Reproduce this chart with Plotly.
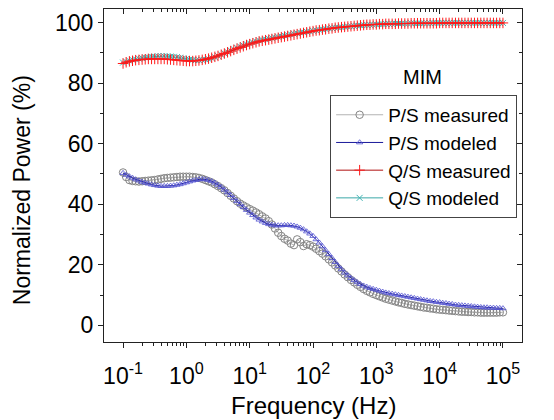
import plotly.graph_objects as go

# frequency (Hz), 20 points per decade from 0.1 Hz to 100 kHz
freq = [0.1, 0.112, 0.126, 0.141, 0.158, 0.178, 0.2, 0.224, 0.251, 0.282, 0.316, 0.355, 0.398, 0.447, 0.501, 0.562, 0.631, 0.708, 0.794, 0.891,
        1, 1.12, 1.26, 1.41, 1.58, 1.78, 2, 2.24, 2.51, 2.82, 3.16, 3.55, 3.98, 4.47, 5.01, 5.62, 6.31, 7.08, 7.94, 8.91,
        10, 11.2, 12.6, 14.1, 15.8, 17.8, 20, 22.4, 25.1, 28.2, 31.6, 35.5, 39.8, 44.7, 50.1, 56.2, 63.1, 70.8, 79.4, 89.1,
        100, 112, 126, 141, 158, 178, 200, 224, 251, 282, 316, 355, 398, 447, 501, 562, 631, 708, 794, 891,
        1000, 1120, 1260, 1410, 1580, 1780, 2000, 2240, 2510, 2820, 3160, 3550, 3980, 4470, 5010, 5620, 6310, 7080, 7940, 8910,
        10000, 11200, 12600, 14100, 15800, 17800, 20000, 22400, 25100, 28200, 31600, 35500, 39800, 44700, 50100, 56200, 63100, 70800, 79400, 89100,
        100000]

ps_measured = [50.5, 49.0, 48.0, 47.7, 47.6, 47.5, 47.6, 47.7, 47.8, 47.9, 48.0, 48.2, 48.4, 48.6, 48.7, 48.8, 48.9, 49.0, 49.1, 49.1,
               49.1, 49.1, 49.0, 48.9, 48.7, 48.4, 48.0, 47.6, 47.2, 46.6, 46.0, 45.3, 44.6, 43.7, 42.8, 41.9, 41.0, 40.2, 39.6, 39.0,
               38.4, 37.9, 37.3, 36.7, 36.0, 35.3, 34.4, 33.3, 32.0, 30.6, 29.5, 28.6, 28.0, 27.0, 26.5, 28.4, 27.5, 26.2, 26.8, 26.5,
               26.0, 25.3, 24.5, 23.7, 22.8, 21.8, 20.8, 19.8, 18.8, 17.8, 16.8, 15.9, 15.0, 14.2, 13.4, 12.7, 12.0, 11.4, 10.9, 10.4,
               10.0, 9.6, 9.2, 8.8, 8.5, 8.2, 7.9, 7.6, 7.4, 7.1, 6.9, 6.7, 6.5, 6.3, 6.1, 5.9, 5.8, 5.6, 5.5, 5.3,
               5.2, 5.1, 5.0, 4.9, 4.8, 4.7, 4.6, 4.5, 4.5, 4.4, 4.4, 4.3, 4.3, 4.2, 4.2, 4.2, 4.2, 4.2, 4.2, 4.3,
               4.3]

ps_modeled = [50.3, 49.7, 49.2, 48.7, 48.2, 47.8, 47.4, 47.1, 46.8, 46.5, 46.3, 46.1, 46.0, 46.0, 46.0, 46.1, 46.2, 46.4, 46.6, 46.9,
              47.2, 47.5, 47.8, 48.0, 48.2, 48.3, 48.2, 48.0, 47.6, 47.1, 46.4, 45.7, 44.8, 43.9, 43.0, 42.0, 41.0, 40.0, 39.0, 38.1,
              37.2, 36.4, 35.6, 34.9, 34.3, 33.8, 33.4, 33.2, 33.0, 33.0, 33.0, 33.1, 33.1, 33.0, 32.9, 32.6, 32.2, 31.7, 31.0, 30.3,
              29.5, 28.4, 27.3, 26.1, 24.8, 23.5, 22.2, 20.9, 19.6, 18.5, 17.4, 16.5, 15.6, 14.9, 14.2, 13.6, 13.1, 12.7, 12.3, 12.0,
              11.7, 11.4, 11.1, 10.8, 10.6, 10.4, 10.2, 10.0, 9.8, 9.6, 9.4, 9.2, 9.0, 8.8, 8.6, 8.4, 8.2, 8.0, 7.9, 7.7,
              7.6, 7.4, 7.3, 7.1, 7.0, 6.8, 6.7, 6.6, 6.5, 6.4, 6.3, 6.2, 6.1, 6.0, 5.9, 5.9, 5.8, 5.8, 5.7, 5.7,
              5.6]

qs_measured = [86.5, 86.9, 87.2, 87.4, 87.6, 87.7, 87.8, 87.9, 88.0, 88.0, 88.0, 88.0, 88.0, 88.0, 87.9, 87.8, 87.7, 87.6, 87.5, 87.4,
               87.3, 87.3, 87.3, 87.4, 87.5, 87.7, 87.9, 88.1, 88.4, 88.7, 89.0, 89.4, 89.8, 90.2, 90.6, 91.0, 91.4, 91.8, 92.2, 92.6,
               92.9, 93.2, 93.5, 93.8, 94.0, 94.2, 94.4, 94.6, 94.8, 95.0, 95.2, 95.4, 95.6, 95.8, 96.0, 96.2, 96.4, 96.6, 96.8, 97.0,
               97.2, 97.4, 97.5, 97.7, 97.8, 98.0, 98.1, 98.3, 98.4, 98.5, 98.6, 98.7, 98.8, 98.9, 99.0, 99.1, 99.2, 99.3, 99.3, 99.4,
               99.4, 99.5, 99.5, 99.6, 99.6, 99.6, 99.6, 99.7, 99.7, 99.7, 99.7, 99.8, 99.8, 99.8, 99.8, 99.8, 99.8, 99.8, 99.8, 99.8,
               99.9, 99.9, 99.9, 99.9, 99.9, 99.9, 99.9, 99.9, 99.9, 99.9, 99.9, 99.9, 99.9, 99.9, 99.9, 99.9, 99.9, 99.9, 99.9, 99.9,
               99.9]

qs_modeled = [86.8, 87.1, 87.4, 87.7, 87.9, 88.1, 88.3, 88.5, 88.6, 88.7, 88.8, 88.9, 88.9, 88.9, 88.9, 88.8, 88.7, 88.6, 88.4, 88.2,
              88.0, 87.8, 87.7, 87.6, 87.6, 87.7, 87.8, 88.0, 88.3, 88.6, 89.0, 89.4, 89.9, 90.3, 90.8, 91.2, 91.7, 92.1, 92.5, 92.9,
              93.2, 93.5, 93.8, 94.1, 94.3, 94.5, 94.7, 94.9, 95.1, 95.3, 95.5, 95.7, 95.9, 96.1, 96.3, 96.5, 96.7, 96.8, 97.0, 97.1,
              97.3, 97.5, 97.6, 97.8, 97.9, 98.1, 98.2, 98.3, 98.4, 98.5, 98.6, 98.7, 98.8, 98.9, 99.0, 99.1, 99.2, 99.2, 99.3, 99.3,
              99.4, 99.5, 99.5, 99.6, 99.6, 99.6, 99.7, 99.7, 99.7, 99.7, 99.7, 99.8, 99.8, 99.8, 99.8, 99.8, 99.8, 99.8, 99.9, 99.9,
              99.9, 99.9, 99.9, 99.9, 99.9, 99.9, 99.9, 99.9, 99.9, 99.9, 99.9, 99.9, 99.9, 99.9, 99.9, 99.9, 99.9, 99.9, 99.9, 99.9,
              99.9]

x_tickvals = [0.1, 1, 10, 100, 1000, 10000, 100000]
x_ticktext = ["10<sup>-1</sup>", "10<sup>0</sup>", "10<sup>1</sup>", "10<sup>2</sup>",
              "10<sup>3</sup>", "10<sup>4</sup>", "10<sup>5</sup>"]
y_tickvals = [0, 20, 40, 60, 80, 100]
y_minor = [10, 30, 50, 70, 90]
x_minor = [m * d for d in x_tickvals[:-1] for m in range(2, 10)]

FONT = "Liberation Sans, Arial, sans-serif"
AX = "#222222"

fig = go.Figure()

fig.add_trace(go.Scatter(
    x=freq, y=ps_measured, name="P/S measured", mode="lines+markers",
    line=dict(color="#a0a0a0", width=0.8),
    marker=dict(symbol="circle-open", size=7.5, color="#858585", line=dict(width=1)),
    legendrank=1))
fig.add_trace(go.Scatter(
    x=freq, y=ps_modeled, name="P/S modeled", mode="lines+markers",
    line=dict(color="#1a1a9a", width=1),
    marker=dict(symbol="triangle-up-open", size=5.5, color="#5050d0", line=dict(width=0.8)),
    legendrank=2))
fig.add_trace(go.Scatter(
    x=freq, y=qs_modeled, name="Q/S modeled", mode="lines+markers",
    line=dict(color="#3aa8a8", width=1),
    marker=dict(symbol="x-thin-open", size=6, color="#40b4b4", line=dict(width=1)),
    legendrank=4))
fig.add_trace(go.Scatter(
    x=freq, y=qs_measured, name="Q/S measured", mode="lines+markers",
    line=dict(color="#b01010", width=1),
    marker=dict(symbol="cross-thin-open", size=7.5, color="#ff1a1a", line=dict(width=1)),
    legendrank=3))
# helper trace so that the top/right (inward) tick axes are drawn
fig.add_trace(go.Scatter(
    x=freq, y=qs_measured, xaxis="x2", yaxis="y2", mode="markers",
    opacity=0, showlegend=False, hoverinfo="skip"))

xrange = [-1.301, 5.301]
yrange = [-5.5, 104.5]

fig.update_layout(
    width=554, height=420,
    margin=dict(l=104, r=32, t=9, b=78),
    paper_bgcolor="white", plot_bgcolor="white",
    font=dict(family=FONT, color="black"),
    showlegend=True,
    legend=dict(
        x=0.541, y=0.742, xanchor="left", yanchor="top",
        bgcolor="white", bordercolor="#444444", borderwidth=1,
        font=dict(size=19, family=FONT),
        itemwidth=47, tracegroupgap=0,
    ),
    xaxis=dict(
        type="log", range=xrange,
        showline=True, linecolor=AX, linewidth=1.3, mirror=True,
        showgrid=False, zeroline=False,
        tickvals=x_tickvals, ticktext=x_ticktext,
        ticks="outside", ticklen=5, tickwidth=1, tickcolor=AX,
        ticklabelstandoff=8,
        tickfont=dict(size=23, family=FONT),
        minor=dict(tickvals=x_minor, ticks="outside", ticklen=3, tickwidth=1, tickcolor=AX, showgrid=False),
    ),
    yaxis=dict(
        range=yrange,
        showline=True, linecolor=AX, linewidth=1.3, mirror=True,
        showgrid=False, zeroline=False,
        tickvals=y_tickvals,
        ticks="outside", ticklen=5, tickwidth=1, tickcolor=AX,
        tickfont=dict(size=23, family=FONT),
        minor=dict(tickvals=y_minor, ticks="outside", ticklen=3, tickwidth=1, tickcolor=AX, showgrid=False),
    ),
    xaxis2=dict(
        type="log", range=xrange, overlaying="x", side="top", anchor="y",
        showline=False, showgrid=False, zeroline=False, showticklabels=False,
        tickvals=x_tickvals, ticks="inside", ticklen=5, tickwidth=1, tickcolor=AX,
        minor=dict(tickvals=x_minor, ticks="inside", ticklen=3, tickwidth=1, tickcolor=AX, showgrid=False),
    ),
    yaxis2=dict(
        range=yrange, overlaying="y", side="right", anchor="x",
        showline=False, showgrid=False, zeroline=False, showticklabels=False,
        tickvals=y_tickvals, ticks="inside", ticklen=5, tickwidth=1, tickcolor=AX,
        minor=dict(tickvals=y_minor, ticks="inside", ticklen=3, tickwidth=1, tickcolor=AX, showgrid=False),
    ),
    annotations=[
        dict(text="MIM", x=0.763, y=0.796, xref="paper", yref="paper",
             xanchor="center", yanchor="middle", showarrow=False,
             font=dict(size=20, family=FONT, color="black")),
        dict(text="Normalized Power (%)", x=-0.196, y=0.456, xref="paper", yref="paper",
             xanchor="center", yanchor="middle", textangle=-90, showarrow=False,
             font=dict(size=23, family=FONT, color="black")),
        dict(text="Frequency (Hz)", x=0.5, y=-0.192, xref="paper", yref="paper",
             xanchor="center", yanchor="middle", showarrow=False,
             font=dict(size=24, family=FONT, color="black")),
    ],
)

fig.write_html("out.html", config={"displayModeBar": False},
               post_script="document.body.style.margin='0px';")
